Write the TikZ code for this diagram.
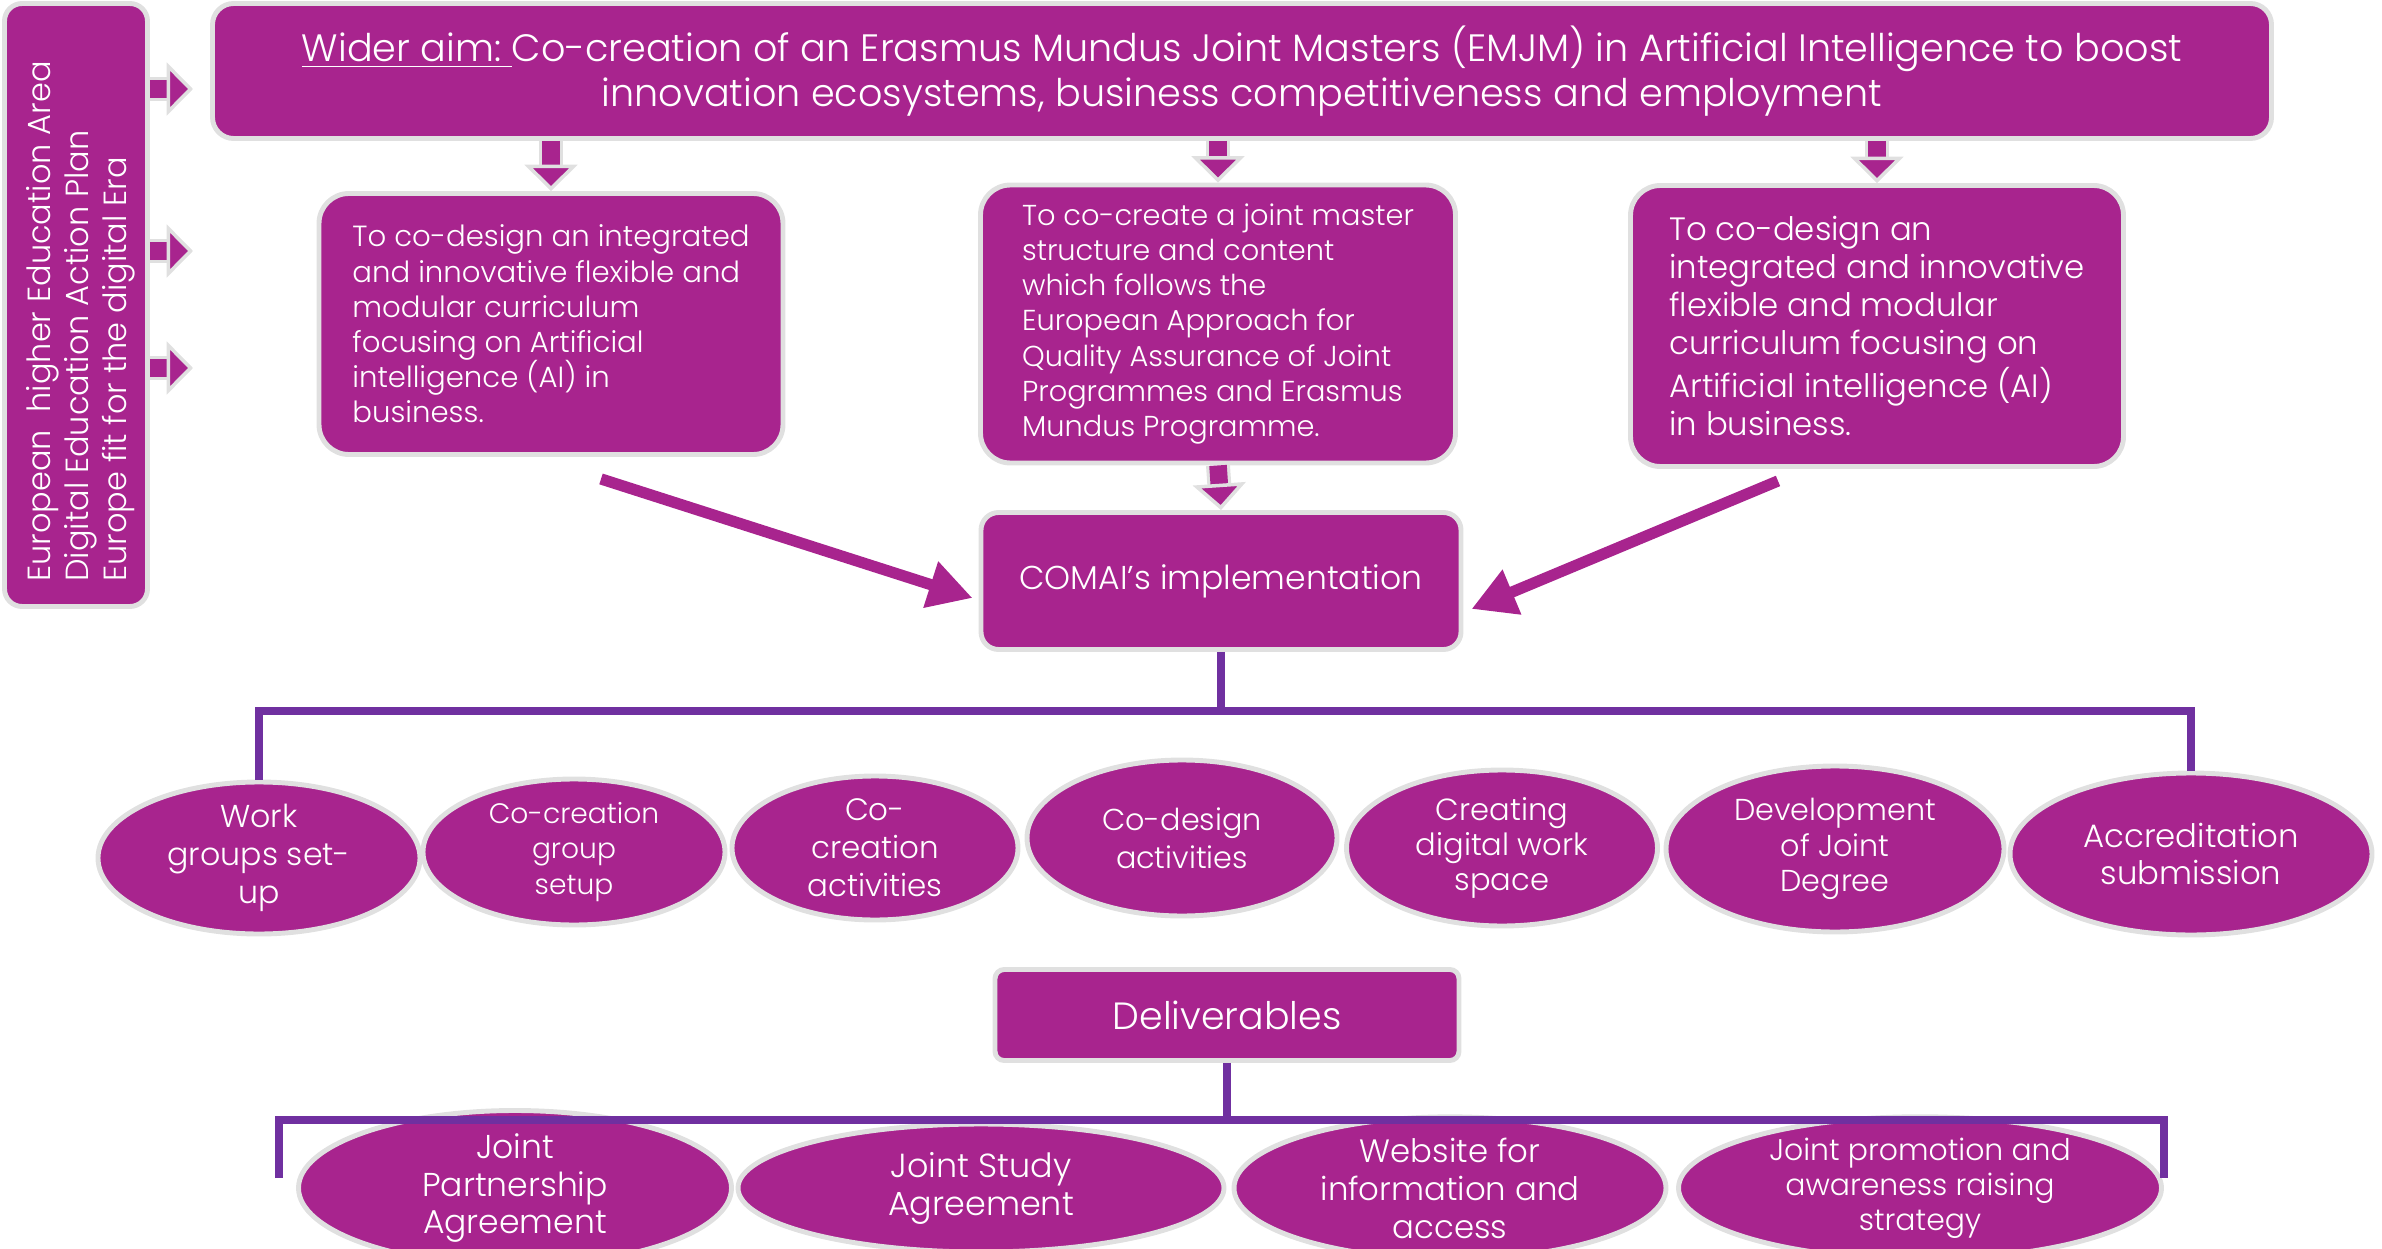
\documentclass[tikz,border=0pt]{standalone}
\usepackage{fontspec}
\setmainfont{Poppins}[UprightFont={* Light}]
\usetikzlibrary{shapes.geometric,arrows.meta,calc}

\definecolor{plum}{RGB}{168,36,142}
\definecolor{rim}{RGB}{224,224,224}
\definecolor{branch}{RGB}{112,48,160}

\tikzset{
  box/.style={draw=rim, line width=1.4pt, fill=plum, text=white, inner sep=0pt},
  oval/.style={ellipse, draw=rim, line width=1.4pt, fill=plum, text=white, inner sep=0pt, align=center},
  blk/.style={draw=plum, line width=5pt,
    -{Triangle[width=15pt,length=7.5pt,line width=1pt,color=rim,fill=plum]},
    preaction={draw=rim, line width=6.8pt, arrows=-, shorten >=6pt}},
  big/.style={draw=plum, line width=3.2pt, -{Triangle[width=13pt,length=12.5pt]}},
  tree/.style={draw=branch, line width=2.2pt},
}

\begin{document}
\begin{tikzpicture}[x=0.1mm,y=-0.1mm]
  \useasboundingbox (0,0) rectangle (2382,1249);

  % Policy frame on the left
  \node[box, rounded corners=5pt, minimum width=14.3mm, minimum height=60.3mm] (frame) at (76,305) {};
  \node[rotate=90, anchor=west, align=left, text=white,
        font=\fontsize{9.1pt}{10.8pt}\selectfont] (policy) at (81,594)
    {European\ \ higher Education Area\\Digital Education Action Plan\\Europe fit for the digital Era};

  % Wider aim
  \node[box, rounded corners=6pt, minimum width=205.9mm, minimum height=13.5mm, align=center,
        font=\fontsize{10.85pt}{13pt}\selectfont] (aim) at (1242,71)
    {\underline{Wider aim:\ }Co-creation of an Erasmus Mundus Joint Masters (EMJM) in Artificial Intelligence to boost\\
     innovation ecosystems, business competitiveness and employment};

  % Specific goals
  \node[box, rounded corners=8.5pt, minimum width=46.4mm, minimum height=26.1mm, align=left,
        font=\fontsize{8.3pt}{10pt}\selectfont] (goal1) at (551,324)
    {To co-design an integrated\\and innovative flexible and\\modular curriculum\\focusing on Artificial\\intelligence (AI) in\\business.};
  \node[box, rounded corners=8.5pt, minimum width=47.5mm, minimum height=27.8mm, align=left,
        font=\fontsize{8.2pt}{10pt}\selectfont] (goal2) at (1218,324)
    {To co-create a joint master\\structure and content\\which follows the\\European Approach for\\Quality Assurance of Joint\\Programmes and Erasmus\\Mundus Programme.};
  \node[box, rounded corners=8.5pt, minimum width=49.3mm, minimum height=28.1mm, align=left,
        font=\fontsize{9.2pt}{10.8pt}\selectfont] (goal3) at (1877,326)
    {To co-design an\\integrated and innovative\\flexible and modular\\curriculum focusing on\\Artificial intelligence (AI)\\in business.};

  % Implementation and deliverables
  \node[box, rounded corners=5pt, minimum width=48mm, minimum height=13.7mm,
        font=\fontsize{9.4pt}{11pt}\selectfont] (impl) at (1221,581) {COMAI’s implementation};
  \node[box, rounded corners=2.6pt, minimum width=46.4mm, minimum height=9.1mm,
        font=\fontsize{10.8pt}{13pt}\selectfont] (deliv) at (1227,1015) {Deliverables};

  % Activities
  \foreach \n/\x/\y/\w/\h/\s/\b/\t in {
      1/259/858/32.2/15.2/9/10.8/{Work\\groups set-\\up},
      2/574/852/30.2/14.6/8/10/{Co-creation\\group\\setup},
      3/875/848/28.6/14.4/8.8/10.8/{Co-\\creation\\activities},
      4/1182/838/31/15.6/8.6/10.8/{Co-design\\activities},
      5/1502/848/31.1/15.6/8.7/10/{Creating\\digital work\\space},
      6/1835/849/33.8/16.6/8.6/10/{Development\\of Joint\\Degree},
      7/2191/854/36.2/16.2/9.2/10.8/{Accreditation\\submission}} {
    \node[oval, minimum width=\w mm, minimum height=\h mm,
          font=\fontsize{\s pt}{\b pt}\selectfont] (act\n) at (\x,\y) {\t};
  }

  % Outputs
  \foreach \n/\x/\w/\s/\b/\t in {
      1/515/43.3/9.4/10.8/{Joint\\Partnership\\Agreement},
      2/981/48.6/9.5/10.8/{Joint Study\\Agreement},
      3/1450/43.2/9.2/10.8/{Website for\\information and\\access},
      4/1920/48.3/8.5/10/{Joint promotion and\\awareness raising\\strategy}} {
    \node[oval, minimum width=\w mm, minimum height=12.8mm,
          font=\fontsize{\s pt}{\b pt}\selectfont] (out\n) at (\x,1188) {\t};
  }

  % Arrows out of the policy frame
  \foreach \n/\y in {1/89,2/251,3/368} {
    \coordinate (pt\n) at (193,\y);
    \draw[blk] (frame.east |- pt\n) -- (pt\n);
  }

  % Aim down to the goals
  \foreach \n in {1,2,3}
    \draw[blk] (aim.south -| goal\n.north) -- (goal\n.north);
  \draw[blk] (goal2.south) -- (impl.north);

  % Goals into the implementation
  \draw[big] ($(goal1.south)+(50,22)$) -- ($(impl.west)+(-6,17)$);
  \draw[big] ($(goal3.south)+(-99,12)$) -- ($(impl.east)+(8,28)$);

  % Tree of activities
  \coordinate (bar1) at (1218,711);
  \draw[tree] (impl.south) -- (impl.south |- bar1);
  \draw[tree] (act1.north) |- (bar1) -| (act7.north);

  % Tree of outputs
  \coordinate (bar2) at (1218,1120);
  \coordinate (end2l) at (279,1178);
  \coordinate (end2r) at (2164,1178);
  \draw[tree] (deliv.south) -- (deliv.south |- bar2);
  \draw[tree] (end2l) |- (bar2) -| (end2r);

\end{tikzpicture}
\end{document}
